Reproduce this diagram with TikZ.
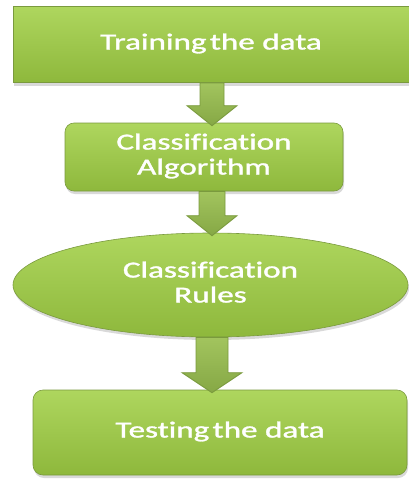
\documentclass[tikz,border=0pt]{standalone}
\usepackage{fontspec}
\setmainfont{Carlito}[Ligatures=NoCommon]
\usetikzlibrary{shapes.geometric,shadows,calc}

\definecolor{leaftop}{HTML}{AED65E}
\definecolor{leafbot}{HTML}{8EB83C}
\definecolor{leafedge}{HTML}{7A9A3E}
\definecolor{arrowtop}{HTML}{A2C45E}
\definecolor{arrowbot}{HTML}{86A845}

% wide lettering, one line per \\
\newcommand\wide[1]{\scalebox{1.44}[1]{\begin{tabular}{@{}c@{}}#1\end{tabular}}}

% block arrow from one stage down to the next
\newcommand\flowstep[4]{%
  \path let \p1=(#1.south -| axis), \p2=(#2.north -| axis) in
    [flowarrow] (\x1-#3,\y1) -- (\x1+#3,\y1) -- (\x1+#3,\y2+17pt)
    -- (\x1+#4,\y2+17pt) -- (\x1,\y2-3pt) -- (\x1-#4,\y2+17pt)
    -- (\x1-#3,\y2+17pt) -- cycle;}

\tikzset{
  stage/.style={draw=leafedge, line width=0.6pt, top color=leaftop,
    bottom color=leafbot, text=white, inner sep=0pt,
    font=\fontsize{23}{25}\selectfont\addfontfeature{FakeBold=1.2},
    drop shadow={opacity=0.3, shadow xshift=1pt, shadow yshift=-3pt}},
  flowarrow/.style={draw=leafedge, line width=0.9pt, top color=arrowtop,
    bottom color=arrowbot}
}

\begin{document}
\begin{tikzpicture}[x=1pt, y=-1pt]

    \useasboundingbox (0,0) rectangle (409,485);

    % Stages
    \node[stage, minimum width=396pt, minimum height=76pt] (train) at (211,44.5)
      {\wide{Training\hspace{0.1em}the data}};
    \node[stage, rounded corners=9pt, minimum width=278pt, minimum height=68pt] (algo) at (204,157)
      {\wide{Classification\\Algorithm}};
    \node[stage, ellipse, minimum width=395pt, minimum height=104pt] (rules) at (210.5,285)
      {\wide{Classification\\Rules}};
    \node[stage, rounded corners=10pt, minimum width=374pt, minimum height=85pt] (test) at (220,432.5)
      {\wide{Testing\hspace{0.1em}the data}};

    % Arrows
    \coordinate (axis) at (212,0);
    \flowstep{train}{algo}{12pt}{25pt}
    \flowstep{algo}{rules}{13pt}{25pt}
    \flowstep{rules}{test}{16pt}{30pt}

\end{tikzpicture}
\end{document}
